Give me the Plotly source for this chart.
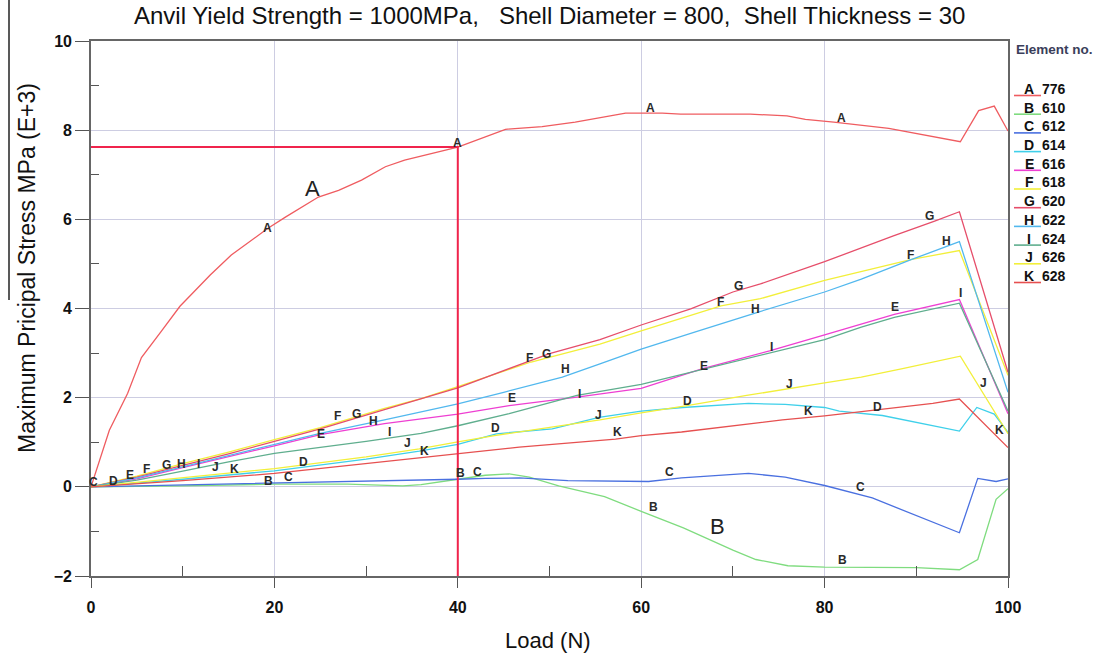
import plotly.graph_objects as go

# ---------------- data ----------------
A_x = [0, 2, 4, 5.5, 7.7, 9.7, 13, 15.3, 19.3, 21.2, 24.8, 27, 29.5, 32.1, 34.2, 40, 45.2, 49.2, 52.8, 58.3, 62.3, 64.3, 71.9, 75.9, 77.9, 81, 87, 94.8, 96.8, 98.5, 100]
A_y = [0, 1.27, 2.1, 2.9, 3.5, 4.05, 4.75, 5.2, 5.8, 6.05, 6.5, 6.65, 6.88, 7.18, 7.33, 7.62, 8.02, 8.08, 8.18, 8.38, 8.38, 8.36, 8.36, 8.32, 8.24, 8.18, 8.04, 7.74, 8.44, 8.54, 7.98]

B_x = [0, 10, 20, 28, 34, 36, 40, 43, 45.6, 47.8, 51, 56, 60, 64.6, 70, 72.5, 76, 80, 90, 94.7, 96.7, 98.7, 100]
B_y = [0, 0.02, 0.06, 0.06, 0.02, 0.05, 0.17, 0.26, 0.29, 0.22, 0.02, -0.22, -0.55, -0.92, -1.42, -1.63, -1.77, -1.8, -1.81, -1.86, -1.63, -0.28, -0.04]

C_x = [0, 10, 20, 30, 36, 40, 43, 46.7, 52, 57, 60.8, 64.4, 71.7, 75.7, 80, 85.2, 94.7, 96.7, 98.7, 100]
C_y = [0, 0.04, 0.09, 0.12, 0.14, 0.17, 0.19, 0.2, 0.14, 0.12, 0.12, 0.2, 0.3, 0.22, 0.03, -0.25, -1.03, 0.19, 0.12, 0.18]

D_x = [0, 5, 10, 20, 30, 35.8, 40, 44.2, 50.3, 55.4, 60, 64.5, 71.7, 75.7, 80, 81.6, 86.3, 94.7, 96.6, 98.5, 100]
D_y = [0, 0.08, 0.17, 0.36, 0.62, 0.8, 0.95, 1.19, 1.3, 1.56, 1.7, 1.78, 1.87, 1.85, 1.78, 1.7, 1.6, 1.25, 1.78, 1.63, 1.22]

E_x = [0, 5, 10, 15, 20, 25, 32, 40, 45.6, 53, 60, 66.7, 74, 80, 87.6, 94.7, 100]
E_y = [0, 0.18, 0.43, 0.67, 0.92, 1.17, 1.42, 1.63, 1.82, 2.01, 2.21, 2.65, 3.05, 3.41, 3.87, 4.2, 1.64]

F_x = [0, 5, 10, 15, 20, 25, 32, 36, 40, 48, 55.5, 60, 68.7, 73, 80, 89.5, 94.7, 100]
F_y = [0, 0.24, 0.52, 0.78, 1.06, 1.33, 1.76, 1.98, 2.25, 2.8, 3.2, 3.5, 4.06, 4.22, 4.63, 5.1, 5.3, 2.5]

G_x = [0, 5, 10, 15, 20, 25, 32, 40, 50, 55.5, 60, 65.4, 70, 73, 80, 87.5, 92, 94.7, 100]
G_y = [0, 0.22, 0.48, 0.74, 1.02, 1.3, 1.73, 2.22, 2.99, 3.3, 3.63, 3.99, 4.37, 4.55, 5.05, 5.63, 5.96, 6.17, 2.57]

H_x = [0, 5, 10, 15, 20, 25, 32, 40, 45, 51.4, 55.5, 60, 66, 72.6, 80, 84, 89.5, 93.3, 94.7, 100]
H_y = [0, 0.2, 0.45, 0.7, 0.95, 1.2, 1.5, 1.86, 2.12, 2.46, 2.76, 3.09, 3.48, 3.91, 4.37, 4.66, 5.1, 5.4, 5.5, 2.12]

I_x = [0, 5, 10, 15, 20, 30, 36, 40, 45.6, 53, 60, 66.7, 74, 80, 84, 87.6, 94.7, 100]
I_y = [0, 0.15, 0.35, 0.56, 0.75, 1.02, 1.2, 1.37, 1.64, 2.05, 2.3, 2.63, 3.0, 3.3, 3.58, 3.8, 4.12, 1.7]

J_x = [0, 5, 10, 15, 20, 30, 35.8, 40, 44, 55.5, 60, 65, 71.5, 80, 84, 88.5, 94.8, 100]
J_y = [0, 0.1, 0.2, 0.3, 0.41, 0.67, 0.85, 1.01, 1.15, 1.5, 1.66, 1.82, 2.05, 2.33, 2.46, 2.65, 2.93, 1.19]

K_x = [0, 10, 20, 30, 35.8, 40, 46.7, 57.2, 60, 64.4, 70.6, 75.4, 80, 86.3, 91.8, 94.7, 100]
K_y = [0, 0.14, 0.3, 0.52, 0.66, 0.74, 0.89, 1.07, 1.15, 1.23, 1.38, 1.5, 1.59, 1.74, 1.87, 1.97, 0.88]

series_letters = ["A", "B", "C", "D", "E", "F", "G", "H", "I", "J", "K"]
element_numbers = ["776", "610", "612", "614", "616", "618", "620", "622", "624", "626", "628"]
series_x = [A_x, B_x, C_x, D_x, E_x, F_x, G_x, H_x, I_x, J_x, K_x]
series_y = [A_y, B_y, C_y, D_y, E_y, F_y, G_y, H_y, I_y, J_y, K_y]

yield_load = 40
yield_stress = 7.62

# letter tags drawn on the curves (letter, x, y)
curve_tags = [
    ("C", 0.3, 0.11), ("D", 2.4, 0.13), ("E", 4.25, 0.26), ("F", 6.1, 0.4), ("G", 8.2, 0.49),
    ("H", 9.9, 0.51), ("I", 11.7, 0.51), ("J", 13.6, 0.45), ("K", 15.6, 0.4),
    ("A", 19.3, 5.81), ("A", 40.0, 7.71), ("A", 61.0, 8.5), ("A", 81.8, 8.27),
    ("B", 19.4, 0.13), ("C", 21.5, 0.22), ("D", 23.2, 0.56),
    ("E", 25.1, 1.19), ("F", 26.9, 1.59), ("G", 28.9, 1.63), ("H", 30.8, 1.48), ("I", 32.5, 1.23),
    ("J", 34.5, 0.98), ("K", 36.4, 0.8),
    ("B", 40.3, 0.31), ("C", 42.2, 0.33),
    ("D", 44.1, 1.32), ("E", 45.9, 1.99), ("F", 47.8, 2.89), ("G", 49.7, 2.98), ("H", 51.7, 2.64),
    ("I", 53.3, 2.08), ("J", 55.3, 1.61), ("K", 57.4, 1.23),
    ("B", 61.3, -0.45), ("C", 63.1, 0.33), ("D", 65.0, 1.92), ("E", 66.8, 2.71), ("F", 68.7, 4.14),
    ("G", 70.6, 4.5), ("H", 72.5, 4.0), ("I", 74.2, 3.14), ("J", 76.2, 2.31), ("K", 78.2, 1.7),
    ("B", 82.0, -1.64), ("C", 83.9, 0.0), ("D", 85.8, 1.79), ("E", 87.7, 4.03), ("F", 89.4, 5.2),
    ("G", 91.4, 6.07), ("H", 93.3, 5.51), ("I", 94.8, 4.34), ("J", 97.3, 2.32), ("K", 99.1, 1.27),
]
big_tags = [("A", 24.1, 6.7), ("B", 68.3, -0.9)]

y_ticks = [-2, 0, 2, 4, 6, 8, 10]
x_ticks = [0, 20, 40, 60, 80, 100]

# ---------------- style ----------------
colors = {
    "A": "#ef5c60", "B": "#7fdc7f", "C": "#4a70e0", "D": "#3fd0ea", "E": "#ee3fd2",
    "F": "#f2ef3a", "G": "#e64e6a", "H": "#52b8ee", "I": "#5fae8e", "J": "#f2ef3a", "K": "#e65050",
}
FONT = "Liberation Sans, Arial, sans-serif"
W, H = 1100, 661
L, R, T, B = 91, 1008, 41, 576
NB = "\u00a0"


def px(xp):
    return (xp - L) / (R - L)


def py(yp):
    return (B - yp) / (B - T)


fig = go.Figure()
for letter, xs, ys in zip(series_letters, series_x, series_y):
    fig.add_trace(go.Scatter(x=xs, y=ys, mode="lines", name=letter,
                             line=dict(color=colors[letter], width=1.3), hoverinfo="skip"))

fig.add_trace(go.Scatter(x=[0, yield_load, yield_load], y=[yield_stress, yield_stress, -2],
                         mode="lines", line=dict(color="#f0244c", width=2), hoverinfo="skip"))

annotations = []
for t, x, y in curve_tags:
    annotations.append(dict(x=x, y=y, xref="x", yref="y", text=f"<b>{t}</b>", showarrow=False,
                            font=dict(family=FONT, size=12, color="#2a2a2a"),
                            xanchor="center", yanchor="middle"))
for t, x, y in big_tags:
    annotations.append(dict(x=x, y=y, xref="x", yref="y", text=t, showarrow=False,
                            font=dict(family=FONT, size=22, color="#222"),
                            xanchor="center", yanchor="middle"))

title_text = ("Anvil Yield Strength = 1000MPa," + NB * 3 + "Shell Diameter = 800," + NB * 2 +
              "Shell Thickness = 30")
annotations.append(dict(x=px(549), y=py(15), xref="paper", yref="paper",
                        text=title_text,
                        showarrow=False, font=dict(family=FONT, size=24, color="#111"),
                        xanchor="center", yanchor="middle"))
annotations.append(dict(x=px(27), y=py(268), xref="paper", yref="paper",
                        text="Maximum Pricipal Stress MPa (E+3)", textangle=-90,
                        showarrow=False, font=dict(family=FONT, size=23, color="#111"),
                        xanchor="center", yanchor="middle"))
annotations.append(dict(x=px(548), y=py(640), xref="paper", yref="paper",
                        text="Load (N)", showarrow=False,
                        font=dict(family=FONT, size=22, color="#111"),
                        xanchor="center", yanchor="middle"))
annotations.append(dict(x=px(1014), y=py(50), xref="paper", yref="paper",
                        text="<b>Element no.</b>", showarrow=False,
                        font=dict(family=FONT, size=13.5, color="#3a3e5a"),
                        xanchor="left", yanchor="middle"))

shapes = []
for i, (letter, num) in enumerate(zip(series_letters, element_numbers)):
    yc = 89 + i * 18.7
    annotations.append(dict(x=px(1029), y=py(yc), xref="paper", yref="paper",
                            text=f"<b>{letter}</b>", showarrow=False,
                            font=dict(family=FONT, size=14, color="#111"),
                            xanchor="center", yanchor="middle"))
    annotations.append(dict(x=px(1040), y=py(yc), xref="paper", yref="paper",
                            text=f"<b>{num}</b>", showarrow=False,
                            font=dict(family=FONT, size=14, color="#111"),
                            xanchor="left", yanchor="middle"))
    shapes.append(dict(type="line", xref="paper", yref="paper",
                       x0=px(1014), x1=px(1041), y0=py(yc + 6.5), y1=py(yc + 6.5),
                       line=dict(color=colors[letter], width=1.6)))

# scan edge line at far left
shapes.append(dict(type="line", xref="paper", yref="paper", x0=px(9), x1=px(9),
                   y0=py(0), y1=py(300), line=dict(color="#222", width=1.5)))

fig.update_layout(
    width=W, height=H,
    margin=dict(l=L, r=W - R, t=T, b=H - B),
    paper_bgcolor="white", plot_bgcolor="white",
    showlegend=False,
    annotations=annotations, shapes=shapes,
    font=dict(family=FONT, color="#111"),
)
fig.update_xaxes(
    range=[0, 100], tickvals=x_ticks, ticktext=[f"<b>{v}</b>" for v in x_ticks],
    showgrid=True, gridcolor="#cdcde2", gridwidth=1, zeroline=False,
    showline=True, linecolor="#666", linewidth=1.6, mirror=True,
    ticks="outside", ticklen=10, tickcolor="#555", tickwidth=1.2,
    tickfont=dict(family=FONT, size=16, color="#111"), ticklabelstandoff=6,
    minor=dict(tickvals=[10, 30, 50, 70, 90], ticks="inside", ticklen=10, tickcolor="#555", showgrid=False),
)
fig.update_yaxes(
    range=[-2, 10], tickvals=y_ticks, ticktext=[f"<b>{v}</b>".replace("-", "\u2212") for v in y_ticks],
    showgrid=True, gridcolor="#cdcde2", gridwidth=1, zeroline=False,
    showline=True, linecolor="#666", linewidth=1.6, mirror=True,
    ticks="outside", ticklen=14, tickcolor="#555", tickwidth=1.2,
    tickfont=dict(family=FONT, size=16, color="#111"),
    minor=dict(tickvals=[-1, 1, 3, 5, 7, 9], ticks="inside", ticklen=8, tickcolor="#555", showgrid=False),
)

fig.write_html("out.html")
